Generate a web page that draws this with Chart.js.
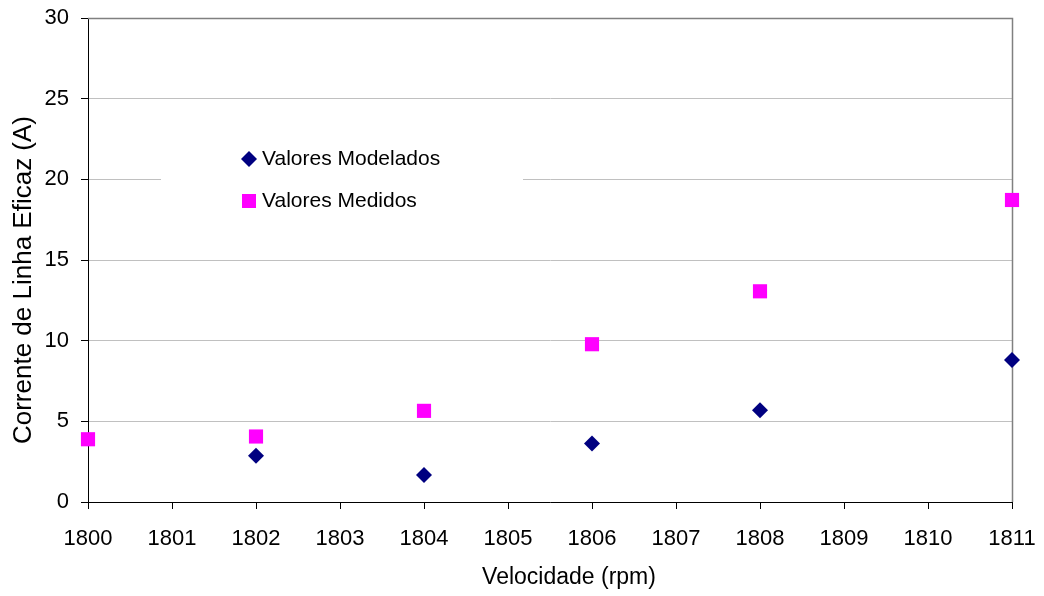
<!DOCTYPE html>
<html>
<head>
<meta charset="utf-8">
<title>Corrente de Linha Eficaz x Velocidade</title>
<script src="https://cdn.jsdelivr.net/npm/chart.js@4/dist/chart.umd.min.js"></script>
<style>
  html, body { margin: 0; padding: 0; background: #fff; }
  #wrap { width: 1044px; height: 596px; }
</style>
</head>
<body>
<div id="wrap"><canvas id="grafico" width="1044" height="596"></canvas></div>
<script>
// velocidades (rpm) e correntes (A)
const velModelados = [1802, 1804, 1806, 1808, 1811];
const valModelados = [2.87, 1.67, 3.62, 5.68, 8.8];
const velMedidos = [1800, 1802, 1804, 1806, 1808, 1811];
const valMedidos = [3.89, 4.06, 5.65, 9.78, 13.06, 18.72];
const nomesSeries = ['Valores Modelados', 'Valores Medidos'];
const tituloX = 'Velocidade (rpm)';
const tituloY = 'Corrente de Linha Eficaz (A)';

const fonte = 'Liberation Sans, Arial, sans-serif';
const corModelados = '#000080';
const corMedidos = '#ff00ff';

const pares = (xs, ys) => xs.map((x, i) => ({ x: x, y: ys[i] }));

// moldura cinza do plot, legenda com fundo branco e titulos dos eixos
const extras = {
  id: 'extras',
  beforeDatasetsDraw(chart) {
    const { ctx, chartArea: a } = chart;
    ctx.save();
    ctx.strokeStyle = '#808080';
    ctx.lineWidth = 1.5;
    ctx.beginPath();
    ctx.moveTo(a.left, a.top + 0.5);
    ctx.lineTo(a.right + 0.5, a.top + 0.5);
    ctx.lineTo(a.right + 0.5, a.bottom);
    ctx.stroke();
    ctx.restore();
  },
  afterDraw(chart) {
    const { ctx, chartArea: a } = chart;
    ctx.save();
    // caixa da legenda
    const lx = a.left + 73, ly = a.top + 114;
    ctx.fillStyle = '#fff';
    ctx.fillRect(lx, ly, 362, 100);

    const mx = a.left + 161;
    const y1 = a.top + 141, y2 = a.top + 183;
    Chart.helpers.drawPoint(ctx, { pointStyle: 'rectRot', radius: 8, borderWidth: 0 }, mx, y1);
    ctx.fillStyle = corModelados;
    ctx.fill();
    ctx.fillStyle = corMedidos;
    ctx.fillRect(mx - 7, y2 - 7, 14, 14);

    ctx.fillStyle = '#000';
    ctx.font = '21px ' + fonte;
    ctx.textAlign = 'left';
    ctx.textBaseline = 'middle';
    ctx.fillText(nomesSeries[0], mx + 13, y1);
    ctx.fillText(nomesSeries[1], mx + 13, y2);

    // titulos
    ctx.font = '23px ' + fonte;
    ctx.textAlign = 'center';
    ctx.fillText(tituloX, 569, 578);
    ctx.translate(24, 280);
    ctx.rotate(-Math.PI / 2);
    ctx.font = '26px ' + fonte;
    ctx.fillText(tituloY, 0, 0);
    ctx.restore();
  }
};

new Chart(document.getElementById('grafico'), {
  type: 'scatter',
  data: {
    datasets: [
      {
        label: nomesSeries[0],
        data: pares(velModelados, valModelados),
        pointStyle: 'rectRot',
        pointRadius: 8,
        pointHoverRadius: 8,
        borderWidth: 0,
        backgroundColor: corModelados,
        borderColor: corModelados,
        clip: false
      },
      {
        label: nomesSeries[1],
        data: pares(velMedidos, valMedidos),
        pointStyle: 'rect',
        pointRadius: 10,
        pointHoverRadius: 10,
        borderWidth: 0,
        backgroundColor: corMedidos,
        borderColor: corMedidos,
        clip: false
      }
    ]
  },
  options: {
    responsive: false,
    animation: false,
    events: [],
    layout: { padding: { top: 18, right: 32, left: 0, bottom: 0 } },
    plugins: {
      legend: { display: false },
      tooltip: { enabled: false }
    },
    scales: {
      x: {
        type: 'linear',
        min: 1800,
        max: 1811,
        afterFit: (s) => {
          s.height = 94;
          s.paddingLeft = 0;
          s.paddingRight = 0;
        },
        ticks: {
          stepSize: 1,
          padding: 17,
          color: '#000',
          font: { family: fonte, size: 22 },
          callback: (v) => String(v)
        },
        grid: { drawOnChartArea: false, tickLength: 7, tickColor: '#000' },
        border: { color: '#000', width: 1 }
      },
      y: {
        min: 0,
        max: 30,
        afterFit: (s) => {
          s.width = 88;
          s.paddingTop = 0;
          s.paddingBottom = 0;
        },
        ticks: {
          stepSize: 5,
          padding: 12,
          color: '#000',
          font: { family: fonte, size: 22 }
        },
        grid: { color: '#c0c0c0', tickLength: 7, tickColor: '#000' },
        border: { color: '#000', width: 1 }
      }
    }
  },
  plugins: [extras]
});
</script>
</body>
</html>
